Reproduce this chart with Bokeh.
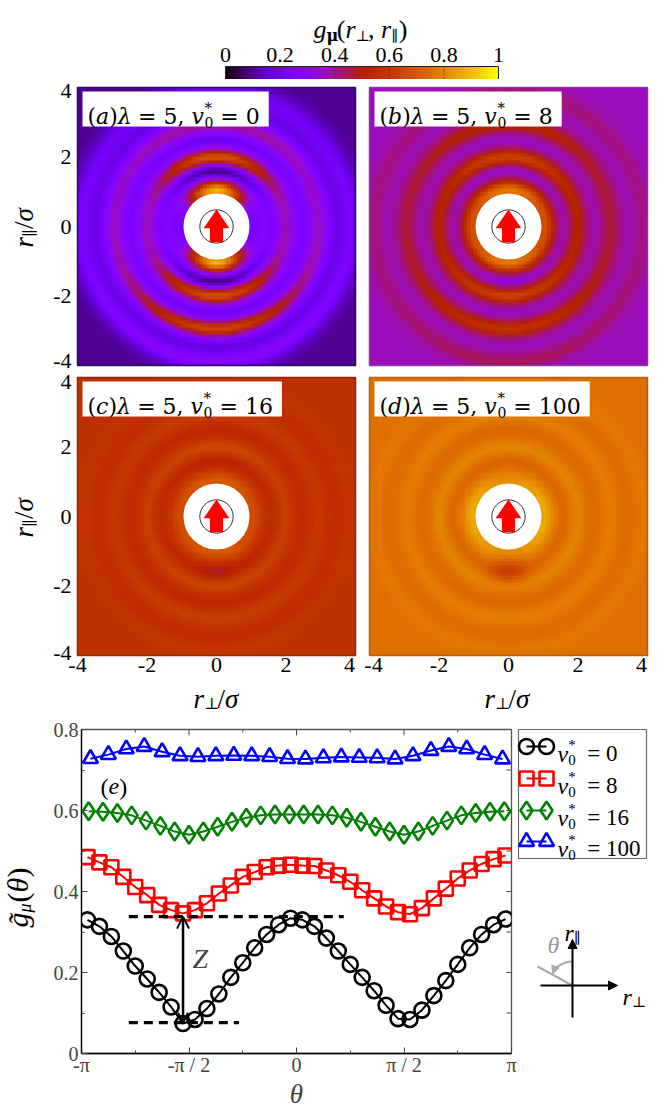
import numpy as np
from bokeh.plotting import figure
from bokeh.models import (Range1d, LinearColorMapper, FixedTicker, Label, Arrow,
                          OpenHead, NormalHead)
from bokeh.layouts import column, row
from bokeh.embed import file_html
from bokeh.resources import INLINE
from bokeh.core.properties import value

LS = "Liberation Serif"
DVS = "DejaVu Serif"

# ---------------- data ----------------
lambda_value = 5
panel_tags = ["a", "b", "c", "d"]
v0_values = [0, 8, 16, 100]
heat_ticks = [-4, -2, 0, 2, 4]
cbar_ticks = [0, 0.2, 0.4, 0.6, 0.8, 1.0]
cbar_labels = ["0", "0.2", "0.4", "0.6", "0.8", "1"]

# structure of the maps g_mu(r_perp, r_par) (a)-(d)
base_level = [0.28, 0.41, 0.57, 0.76]
ring_radius = [1.03, 2.00, 2.95, 3.90]
ring_width = [0.26, 0.20, 0.20, 0.20]
trough_radius = [1.58, 2.50, 3.45]
peak_axial = [[0.62, 0.40, 0.24, 0.08],
              [0.38, 0.22, 0.14, 0.05],
              [0.14, 0.08, 0.05, 0.02],
              [0.06, 0.04, 0.03, 0.015]]
peak_lateral = [[-0.06, 0.09, 0.08, 0.06],
                [0.27, 0.11, 0.06, 0.03],
                [0.10, 0.05, 0.03, 0.015],
                [0.11, 0.04, 0.025, 0.015]]
trough_axial = [[0.20, 0.08, 0.05],
                [0.06, 0.05, 0.03],
                [0.05, 0.03, 0.015],
                [0.03, 0.02, 0.01]]
trough_lateral = [[0.04, 0.05, 0.04],
                  [0.03, 0.03, 0.02],
                  [0.02, 0.015, 0.01],
                  [0.02, 0.01, 0.01]]
rear_factor = [0.5, 0.2, 0.1, 0.0]
rear_dip = [0.0, 0.02, 0.05, 0.12]
edge_dark = [0.18, 0.04, 0.0, 0.0]
excluded_radius = 0.95

# panel (e): angular profiles
theta_deg_36 = [-175, -165, -155, -145, -135, -125, -115, -105, -95, -85, -75, -65,
                -55, -45, -35, -25, -15, -5, 5, 15, 25, 35, 45, 55,
                65, 75, 85, 95, 105, 115, 125, 135, 145, 155, 165, 175]
theta_deg_30 = [-174, -162, -150, -138, -126, -114, -102, -90, -78, -66, -54, -42,
                -30, -18, -6, 6, 18, 30, 42, 54, 66, 78, 90, 102,
                114, 126, 138, 150, 162, 174]
theta_deg_24 = [-172.5, -157.5, -142.5, -127.5, -112.5, -97.5, -82.5, -67.5,
                -52.5, -37.5, -22.5, -7.5, 7.5, 22.5, 37.5, 52.5,
                67.5, 82.5, 97.5, 112.5, 127.5, 142.5, 157.5, 172.5]
g_v0_0 = [0.330, 0.314, 0.289, 0.253, 0.216, 0.184, 0.151, 0.115, 0.074,
          0.084, 0.111, 0.147, 0.188, 0.224, 0.261, 0.294, 0.318, 0.334,
          0.330, 0.314, 0.285, 0.253, 0.220, 0.188, 0.155, 0.119, 0.086,
          0.084, 0.107, 0.143, 0.180, 0.220, 0.261, 0.294, 0.318, 0.332]
g_v0_8 = [0.485, 0.472, 0.460, 0.436, 0.411, 0.391, 0.367, 0.354, 0.346,
          0.354, 0.371, 0.395, 0.415, 0.436, 0.448, 0.460, 0.464, 0.466,
          0.464, 0.463, 0.452, 0.440, 0.424, 0.403, 0.383, 0.363, 0.349,
          0.344, 0.359, 0.383, 0.407, 0.432, 0.452, 0.468, 0.480, 0.489]
g_v0_16 = [0.598, 0.597, 0.594, 0.588, 0.575, 0.562, 0.548, 0.540, 0.548, 0.560,
           0.572, 0.582, 0.588, 0.590, 0.590, 0.590, 0.590, 0.588, 0.582, 0.572,
           0.560, 0.548, 0.540, 0.548, 0.562, 0.575, 0.588, 0.594, 0.597, 0.598]
g_v0_100 = [0.728, 0.738, 0.752, 0.758, 0.745, 0.735, 0.733, 0.735, 0.736, 0.735,
            0.733, 0.728, 0.727, 0.730, 0.732, 0.731, 0.730, 0.727, 0.735, 0.748,
            0.758, 0.752, 0.738, 0.727]
z_levels = [0.076, 0.338]
z_lines_start = [-2.45, -2.45]
z_lines_end = [-0.84, 0.69]
theta_tick_labels = ["-π", "-π / 2", "0", "π / 2", "π"]
g_ticks = [0, 0.2, 0.4, 0.6, 0.8]
g_tick_labels = ["0", "0.2", "0.4", "0.6", "0.8"]

series_theta = [theta_deg_36, theta_deg_36, theta_deg_30, theta_deg_24]
series_g = [g_v0_0, g_v0_8, g_v0_16, g_v0_100]
series_color = ["black", "red", "green", "blue"]
series_marker = ["circle", "square", "diamond", "triangle"]
series_size = [15, 14, 18, 15]

# ---------------- palette (gnuplot 7,5,15) ----------------
_x = np.linspace(0, 1, 256)
_r = np.sqrt(_x)
_g = _x ** 3
_b = np.clip(np.sin(2 * np.pi * _x), 0, 1)
palette = ["#%02x%02x%02x" % (int(round(255 * a)), int(round(255 * b)), int(round(255 * c)))
           for a, b, c in zip(_r, _g, _b)]
mapper = LinearColorMapper(palette=palette, low=0, high=1, nan_color="white")

# ---------------- rich text helper ----------------
W_LS = {'(': 0.333, ')': 0.333, ' ': 0.25, '=': 0.564, ',': 0.25, '/': 0.278,
        'r': 0.389, 'g': 0.5, 'v': 0.444, 'e': 0.444, 'Z': 0.556, 'θ': 0.5,
        'σ': 0.55, 'μ': 0.55, '*': 0.5, 'λ': 0.55, '\u0303': 0.0}
W_DV = {'(': 0.39, ')': 0.39, ' ': 0.318, '=': 0.838, ',': 0.318, 'a': 0.596,
        'b': 0.64, 'c': 0.56, 'd': 0.64, 'λ': 0.6, 'v': 0.592, '*': 0.5,
        '⊥': 0.838, '∥': 0.5, 'μ': 0.64}


def tw(text, size, font):
    tab = W_DV if font == DVS else W_LS
    tot = 0.0
    for ch in text:
        if ch.isdigit():
            tot += 0.636 if font == DVS else 0.5
        else:
            tot += tab.get(ch, 0.55)
    return tot * size


def rich(p, x, y, pieces, angle=0.0, color="black"):
    adv = 0.0
    for pc in pieces:
        text, size, shift, style, font = pc[:5]
        advance = pc[5] if len(pc) > 5 else True
        stripped = text.strip(' ')
        lead = tw(text[:len(text) - len(text.lstrip(' '))], size, font)
        pos = adv + lead
        if angle == 0:
            xo, yo = pos, shift
        else:
            xo, yo = -shift, pos
        p.add_layout(Label(x=x, y=y, x_offset=xo, y_offset=yo, text=stripped,
                           text_font=font, text_font_size=f"{size}px",
                           text_font_style=style, text_color=color, angle=angle,
                           text_baseline="alphabetic", text_align="left"))
        if advance:
            adv += tw(text, size, font)
    return adv


def bare(fig):
    fig.grid.visible = False
    fig.outline_line_color = None
    return fig


COMMON = dict(output_backend="svg", toolbar_location=None, frame_align=False,
              x_axis_location=None, y_axis_location=None,
              min_border_left=0, min_border_right=0, min_border_top=0, min_border_bottom=0)
PAGE_W = 664

# ---------------- colour bar (page rows 0..79) ----------------
CB_L, CB_R, CB_T, CB_B = 225, 498, 66, 79
cw = CB_R - CB_L
chh = CB_B - CB_T
cb = bare(figure(width=PAGE_W, height=CB_B,
                 x_range=Range1d(-CB_L / cw, (PAGE_W - CB_L) / cw),
                 y_range=Range1d(0, CB_B / chh), **COMMON))
cb.image(image=[np.array([_x])], x=0, y=0, dw=1, dh=1, color_mapper=mapper)
cb.rect(x=[0.5], y=[0.5], width=1, height=1, fill_color=None, line_color="#222222", line_width=1)
cb.segment(x0=cbar_ticks[1:-1], y0=[0] * 4, x1=cbar_ticks[1:-1], y1=[1] * 4,
           line_color="#333333", line_width=0.8, line_dash="2 2")
cb.text(x=cbar_ticks, y=[(CB_B - 54) / chh] * 6, text=cbar_labels, text_font=value(LS),
        text_font_size=value("22px"), text_align="center", text_baseline="alphabetic")
rich(cb, (313 - CB_L) / cw, (CB_B - 29) / chh, [
    ("g", 26, 0, "italic", LS), ("μ", 16, -6, "bold", DVS), ("(", 26, 0, "normal", LS),
    ("r", 26, 0, "italic", LS), ("⊥", 15, -6, "normal", DVS), (", ", 26, 0, "normal", LS),
    ("r", 26, 0, "italic", LS), ("∥", 15, -6, "normal", DVS), (")", 26, 0, "normal", LS)])

# ---------------- heat maps (a)-(d) (page rows 79..712) ----------------
S = 34.75
col_gap = 14 / S
row_gap = 12 / S
y_hi = 12 + row_gap
HEAT_TOP, HEAT_BOT = CB_B, 712


def heat_pt(px, py):
    return -4 + (px - 77) / S, y_hi - (py - 87) / S


hx0, hy1 = heat_pt(0, HEAT_TOP)
hx1, hy0 = heat_pt(PAGE_W, HEAT_BOT)
heat = bare(figure(width=PAGE_W, height=HEAT_BOT - HEAT_TOP, x_range=Range1d(hx0, hx1),
                   y_range=Range1d(hy0, hy1), **COMMON))

gx = np.linspace(-3.95, 3.95, 80)
X, Y = np.meshgrid(gx, gx)
R = np.hypot(X, Y)
Rs = np.maximum(R, 1e-9)
C = np.abs(Y) / Rs
w_ax = C ** 3


def field(i):
    g = np.full_like(R, base_level[i])
    for k in range(4):
        amp = peak_axial[i][k] * w_ax + peak_lateral[i][k] * (1 - w_ax)
        if k >= 2:
            amp = amp * (1 - rear_factor[i] * Y / Rs)
        g = g + amp * np.exp(-((R - ring_radius[k]) / ring_width[k]) ** 2)
    for k in range(3):
        depth = trough_axial[i][k] * w_ax + trough_lateral[i][k] * (1 - w_ax)
        g = g - depth * np.exp(-((R - trough_radius[k]) / 0.16) ** 2)
    g = g - rear_dip[i] * np.exp(-((X / 0.5) ** 2 + ((Y + 1.55) / 0.35) ** 2))
    g = g - edge_dark[i] * np.clip((R - 3.0) / 1.5, 0, 1)
    g = np.clip(g, 0, 1)
    g[R < 0.8 * excluded_radius] = np.nan
    return g


offsets = [(0, 8 + row_gap), (8 + col_gap, 8 + row_gap), (0, 0), (8 + col_gap, 0)]
frame_colors = ["#241250", "#8a3a9e", "#8b2a00", "#b0600f"]
arrow_x = [0, 0.37, 0.19, 0.19, -0.19, -0.19, -0.37]
arrow_y = [0.49, -0.05, -0.05, -0.45, -0.45, -0.05, -0.05]
for i, (ox, oy) in enumerate(offsets):
    heat.image(image=[field(i)], x=ox - 4, y=oy - 4, dw=8, dh=8, color_mapper=mapper)
    heat.rect(x=ox, y=oy, width=8, height=8, fill_color=None,
              line_color=frame_colors[i], line_width=1.5)
    heat.circle(x=[ox], y=[oy], radius=excluded_radius, fill_color="white", line_color=None)
    heat.circle(x=[ox], y=[oy], radius=0.48, fill_color=None, line_color="#333333", line_width=1)
    heat.patch([ox + v for v in arrow_x], [oy + v for v in arrow_y], fill_color="red", line_color=None)
    pieces = [("(", 22, 0, "normal", DVS), (panel_tags[i], 22, 0, "italic", DVS),
              (")", 22, 0, "normal", DVS), ("λ", 22, 0, "italic", DVS),
              (f" = {lambda_value}, ", 22, 0, "normal", DVS), ("v", 22, 0, "italic", DVS),
              ("*", 15, 9, "normal", DVS, False), ("0", 14, -6, "normal", DVS),
              (f" = {v0_values[i]}", 22, 0, "normal", DVS)]
    total = sum(tw(p[0], p[1], p[4]) for p in pieces if (len(p) < 6 or p[5]))
    bl = ox - 4 + 5 / S
    bt = oy + 4 - 4 / S
    heat.quad(left=bl, right=bl + (total + 14) / S, top=bt, bottom=bt - 35 / S,
              fill_color="white", line_color=None)
    rich(heat, ox - 4 + 10 / S, oy + 4 - 29 / S, pieces)

# tick labels of the maps (placed through the data scale)
x_tick_pos = heat_ticks + [t + 8 + col_gap for t in heat_ticks]
x_tick_shift = [0, 0, 0, 0, -6, 4, 0, 0, 0, -6]
y_tick_pos = heat_ticks + [t + 8 + row_gap for t in heat_ticks]
y_tick_shift = [3, 0, 0, 0, -4, 5, 0, 0, 0, -3]
tick_txt = [str(t) for t in heat_ticks] * 2
heat.text(x=[p + s / S for p, s in zip(x_tick_pos, x_tick_shift)],
          y=[heat_pt(0, 657)[1]] * 10, text=tick_txt, text_font=value(LS),
          text_font_size=value("22px"), text_align="center", text_baseline="top")
heat.text(x=[heat_pt(71, 0)[0]] * 10, y=[p + s / S for p, s in zip(y_tick_pos, y_tick_shift)],
          text=tick_txt, text_font=value(LS), text_font_size=value("22px"),
          text_align="right", text_baseline="middle")

par_label = [("r", 27, 0, "italic", LS), ("∥", 16, -6, "normal", DVS),
             ("/", 27, 0, "normal", LS), ("σ", 27, 0, "italic", LS)]
perp_label = [("r", 27, 0, "italic", LS), ("⊥", 16, -5, "normal", DVS),
              ("/", 27, 0, "normal", LS), ("σ", 27, 0, "italic", LS)]
for py in (247, 537):
    hx, hy = heat_pt(23, py)
    rich(heat, hx, hy, par_label, angle=np.pi / 2)
for px in (193, 484):
    hx, hy = heat_pt(px, 698)
    rich(heat, hx, hy, perp_label)

# ---------------- panel (e) (page rows 712..1111) ----------------
ROW_TOP, ROW_BOT = 712, 1111
pe = figure(width=469, height=ROW_BOT - ROW_TOP, x_range=Range1d(-np.pi, np.pi), y_range=Range1d(0, 0.8),
            min_border_left=33, min_border_right=6, min_border_top=17, min_border_bottom=54,
            output_backend="svg", toolbar_location=None, frame_align=False)
pe.grid.visible = False
pe.outline_line_color = "#555555"
pe.outline_line_width = 1.3
th_ticks = [-np.pi, -np.pi / 2, 0, np.pi / 2, np.pi]
th_minor = [-3 * np.pi / 4, -np.pi / 4, np.pi / 4, 3 * np.pi / 4]
pe.xaxis.ticker = FixedTicker(ticks=th_ticks, minor_ticks=th_minor)
pe.xaxis.major_label_overrides = dict(zip(th_ticks, theta_tick_labels))
pe.yaxis.ticker = FixedTicker(ticks=g_ticks, minor_ticks=[0.1, 0.3, 0.5, 0.7])
pe.yaxis.major_label_overrides = dict(zip(g_ticks, g_tick_labels))
for a in pe.axis:
    a.major_tick_in = 6
    a.major_tick_out = 0
    a.minor_tick_in = 3
    a.minor_tick_out = 0
    a.major_tick_line_color = "#444444"
    a.minor_tick_line_color = "#444444"
    a.axis_line_color = "black"
    a.axis_line_width = 1.3
    a.major_label_text_font = LS
    a.major_label_text_font_size = "20px"
    a.major_label_standoff = 0
pe.yaxis.major_label_standoff = 3
pe.xaxis.axis_label = "θ"
pe.xaxis.axis_label_text_font = LS
pe.xaxis.axis_label_text_font_style = "italic"
pe.xaxis.axis_label_text_font_size = "27px"
pe.xaxis.axis_label_standoff = 0

PX = 430 / (2 * np.pi)
PY = 410.0
top_major = [-np.pi / 2, 0, np.pi / 2]
pe.segment(x0=top_major, y0=[0.8] * 3, x1=top_major, y1=[0.8 - 6 / PY] * 3,
           line_color="#444444", line_width=1)
pe.segment(x0=th_minor, y0=[0.8] * 4, x1=th_minor, y1=[0.8 - 3 / PY] * 4,
           line_color="#444444", line_width=1)
right_ticks = [0.1, 0.2, 0.3, 0.4, 0.5, 0.6, 0.7]
pe.segment(x0=[np.pi] * 7, y0=right_ticks, x1=[np.pi - 5 / PX] * 7, y1=right_ticks,
           line_color="#444444", line_width=1)

for th, g, col, mk, sz in zip(series_theta, series_g, series_color, series_marker, series_size):
    t = np.deg2rad(np.array(th, dtype=float))
    pe.line(t, g, line_color=col, line_width=2)
    pe.scatter(t, g, marker=mk, size=sz, fill_color=None, line_color=col, line_width=2.6)

for lv, xs, xe in zip(z_levels, z_lines_start, z_lines_end):
    pe.line([xs, xe], [lv, lv], line_color="black", line_width=3.2, line_dash="9 6")
theta_min = np.deg2rad(theta_deg_36[int(np.argmin(g_v0_0[:18]))])
pe.add_layout(Arrow(start=OpenHead(size=10, line_width=2), end=OpenHead(size=12, line_width=2),
                    x_start=theta_min, y_start=z_levels[0], x_end=theta_min, y_end=z_levels[1],
                    line_width=2.5, line_color="black"))


def e_pt(px, py):
    return -np.pi + (px - 81) / PX, (1057 - py) / PY


ex, ey = e_pt(192, 977)
pe.add_layout(Label(x=ex, y=ey, text="Z", text_font=LS, text_font_size="28px",
                    text_font_style="italic"))
ex, ey = e_pt(100, 787)
rich(pe, ex, ey, [("(", 24, 0, "normal", LS), ("e", 24, 0, "italic", LS), (")", 24, 0, "normal", LS)])

# y label of (e)
ylab = bare(figure(width=48, height=ROW_BOT - ROW_TOP, x_range=Range1d(0, 48),
                   y_range=Range1d(ROW_BOT, ROW_TOP), **COMMON))
rich(ylab, 17, 927, [("g\u0303", 30, 0, "italic", LS), ("μ", 18, -7, "italic", LS),
                     ("(", 30, 0, "normal", LS), ("θ", 30, 0, "italic", LS),
                     (")", 30, 0, "normal", LS)], angle=np.pi / 2)

# ---------------- legend + orientation sketch ----------------
side = bare(figure(width=PAGE_W - 517, height=ROW_BOT - ROW_TOP, x_range=Range1d(517, PAGE_W),
                   y_range=Range1d(ROW_BOT, ROW_TOP), **COMMON))
side.quad(left=[518], right=[646], top=[729], bottom=[858], fill_color="white",
          line_color="#666666", line_width=1.2)
row_y = [746, 778, 810, 841]
for ry, col, mk, sz, v0 in zip(row_y, series_color, series_marker, series_size, v0_values):
    side.line([526, 546], [ry, ry], line_color=col, line_width=2)
    side.scatter([526, 546], [ry, ry], marker=mk, size=sz, fill_color=None,
                 line_color=col, line_width=2.6)
    rich(side, 557, ry + 7, [("v", 24, 0, "italic", LS), ("*", 15, 9, "normal", LS, False),
                             ("0", 15, -6, "normal", LS), (f"  = {v0}", 23, 0, "normal", LS)])

side.add_layout(Arrow(end=NormalHead(size=9, fill_color="black", line_color="black"),
                      x_start=572, y_start=1017, x_end=572, y_end=939,
                      line_width=2, line_color="black"))
side.add_layout(Arrow(end=NormalHead(size=9, fill_color="black", line_color="black"),
                      x_start=540, y_start=985, x_end=617, y_end=985,
                      line_width=2, line_color="black"))
side.line([572, 537], [985, 966], line_color="#aaaaaa", line_width=2)
ang = np.deg2rad(np.linspace(88, 140, 20))
side.line(572 + 24 * np.cos(ang), 985 - 24 * np.sin(ang), line_color="#aaaaaa", line_width=2)
side.add_layout(Arrow(end=NormalHead(size=8, fill_color="#aaaaaa", line_color="#aaaaaa"),
                      x_start=572 + 24 * np.cos(np.deg2rad(140)), y_start=985 - 24 * np.sin(np.deg2rad(140)),
                      x_end=572 + 23 * np.cos(np.deg2rad(150)), y_end=985 - 23 * np.sin(np.deg2rad(150)),
                      line_width=2, line_color="#aaaaaa"))
side.add_layout(Label(x=547, y=957, text="θ", text_font=LS, text_font_size="24px",
                      text_font_style="italic", text_color="#999999"))
rich(side, 564, 932, [("r", 24, 0, "italic", LS), ("∥", 15, -5, "normal", DVS)])
rich(side, 622, 996, [("r", 24, 0, "italic", LS), ("⊥", 15, -5, "normal", DVS)])

layout = column(cb, heat, row(ylab, pe, side))
open("out.html", "w").write(file_html(layout, INLINE))
